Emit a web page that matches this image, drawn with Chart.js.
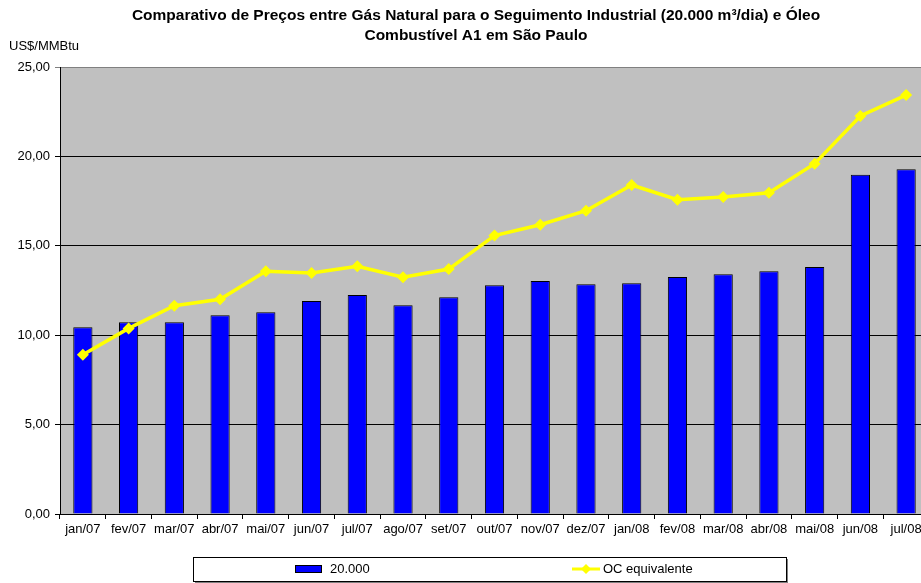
<!DOCTYPE html>
<html>
<head>
<meta charset="utf-8">
<script src="https://cdn.jsdelivr.net/npm/chart.js@4.4.1/dist/chart.umd.min.js"></script>
<style>
  html, body { margin: 0; padding: 0; background: #fff; overflow: hidden; }
  #wrap { position: relative; width: 950px; height: 583px; }
</style>
</head>
<body>
<div id="wrap"><canvas id="chart" width="950" height="583"></canvas></div>
<script>
// data
const months = ['jan/07', 'fev/07', 'mar/07', 'abr/07', 'mai/07', 'jun/07', 'jul/07', 'ago/07', 'set/07', 'out/07',
    'nov/07', 'dez/07', 'jan/08', 'fev/08', 'mar/08', 'abr/08', 'mai/08', 'jun/08', 'jul/08'];
const gasNatural = [10.44, 10.72, 10.72, 11.11, 11.28, 11.91, 12.25, 11.67, 12.12, 12.79,
    13.03, 12.85, 12.90, 13.25, 13.41, 13.57, 13.81, 18.98, 19.28];
const ocEquivalente = [8.91, 10.38, 11.65, 12.01, 13.57, 13.48, 13.85, 13.24, 13.70, 15.57,
    16.18, 16.96, 18.40, 17.58, 17.73, 17.97, 19.59, 22.26, 23.43];
const yTicks = [0, 5, 10, 15, 20, 25];

const titleLines = ['Comparativo de Preços entre Gás Natural para o Seguimento Industrial (20.000 m³/dia) e Óleo',
    'Combustível A1 em São Paulo'];
const yUnit = 'US$/MMBtu';
const FONT = 'Arial, "Liberation Sans", sans-serif';

const fmt = v => v.toFixed(2).replace('.', ',');

// gray plot background
const plotBackground = {
    id: 'plotBackground',
    beforeDraw(chart) {
        const { ctx, chartArea: a } = chart;
        ctx.save();
        ctx.fillStyle = '#c0c0c0';
        ctx.fillRect(a.left, a.top, a.right - a.left, a.bottom - a.top);
        ctx.restore();
    }
};

// title, unit label and boxed legend like the spreadsheet one
const extras = {
    id: 'extras',
    afterDraw(chart) {
        const ctx = chart.ctx;
        ctx.save();
        ctx.fillStyle = '#000';
        ctx.textBaseline = 'middle';

        // title (the original is centred on a slightly wider sheet)
        ctx.font = 'bold 15.5px ' + FONT;
        ctx.textAlign = 'center';
        titleLines.forEach((t, i) => ctx.fillText(t, 476, 16 + i * 20));

        ctx.font = '13px ' + FONT;
        ctx.textAlign = 'left';
        ctx.fillText(yUnit, 9, 46);

        // legend box
        const bx = 193, by = 557, bw = 593, bh = 24;
        ctx.fillStyle = '#808080';
        ctx.fillRect(bx + 2, by + 2, bw, bh);
        ctx.fillStyle = '#fff';
        ctx.fillRect(bx, by, bw, bh);
        ctx.strokeStyle = '#000';
        ctx.lineWidth = 1;
        ctx.strokeRect(bx + 0.5, by + 0.5, bw, bh);

        const bars = chart.data.datasets.find(d => d.type === 'bar');
        const line = chart.data.datasets.find(d => d.type === 'line');
        const cy = by + 12;
        // bar item
        ctx.fillStyle = bars.backgroundColor;
        ctx.fillRect(295, cy - 3.5, 27, 7);
        ctx.strokeStyle = '#000';
        ctx.strokeRect(295.5, cy - 3.5, 26, 7);
        ctx.fillStyle = '#000';
        ctx.fillText(bars.label, 330, cy);
        // line item
        ctx.strokeStyle = line.borderColor;
        ctx.lineWidth = 3;
        ctx.beginPath();
        ctx.moveTo(572, cy);
        ctx.lineTo(600, cy);
        ctx.stroke();
        ctx.fillStyle = line.borderColor;
        ctx.beginPath();
        ctx.moveTo(586, cy - 5);
        ctx.lineTo(591, cy);
        ctx.lineTo(586, cy + 5);
        ctx.lineTo(581, cy);
        ctx.closePath();
        ctx.fill();
        ctx.fillStyle = '#000';
        ctx.fillText(line.label, 603, cy);
        ctx.restore();
    }
};

new Chart(document.getElementById('chart'), {
    type: 'bar',
    data: {
        labels: months,
        datasets: [
            {
                type: 'line',
                label: 'OC equivalente',
                data: ocEquivalente,
                borderColor: '#ffff00',
                backgroundColor: '#ffff00',
                borderWidth: 3.5,
                pointStyle: 'rectRot',
                pointRadius: 6,
                pointBorderWidth: 0,
                pointBackgroundColor: '#ffff00',
                tension: 0,
                order: 0
            },
            {
                type: 'bar',
                label: '20.000',
                data: gasNatural,
                backgroundColor: '#0000ff',
                borderColor: '#000',
                borderWidth: 1,
                barPercentage: 1,
                categoryPercentage: 0.42,
                order: 1
            }
        ]
    },
    options: {
        responsive: false,
        animation: false,
        layout: { padding: { left: 0, right: 21, top: 67, bottom: 33 } },
        plugins: {
            legend: { display: false },
            tooltip: { enabled: false },
            title: { display: false }
        },
        scales: {
            x: {
                offset: true,
                grid: {
                    offset: true,
                    drawOnChartArea: false,
                    drawTicks: true,
                    tickLength: 5,
                    color: '#000'
                },
                border: { display: true, color: '#000' },
                ticks: {
                    color: '#000',
                    font: { family: FONT, size: 13 },
                    maxRotation: 0,
                    autoSkip: false,
                    padding: 3
                },
                afterFit(scale) { scale.height = 36; }
            },
            y: {
                min: 0,
                max: 25,
                afterBuildTicks(scale) { scale.ticks = yTicks.map(v => ({ value: v })); },
                grid: {
                    color: ctx => ctx.tick && ctx.tick.value === 25 ? '#808080' : '#000',
                    tickLength: 5,
                    drawTicks: true
                },
                border: { display: true, color: '#000' },
                ticks: {
                    color: '#000',
                    font: { family: FONT, size: 13 },
                    padding: 5,
                    callback: v => fmt(v)
                },
                afterFit(scale) { scale.width = 60; }
            }
        }
    },
    plugins: [plotBackground, extras]
});
</script>
</body>
</html>
